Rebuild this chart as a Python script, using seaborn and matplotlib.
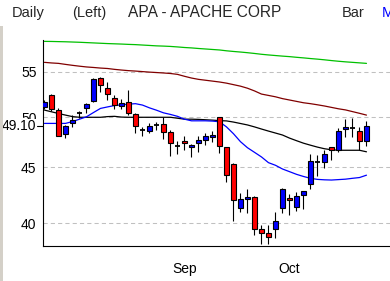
import numpy as np
import pandas as pd
import matplotlib
matplotlib.use("Agg")
import matplotlib.pyplot as plt
import seaborn as sns
from matplotlib.ticker import FixedLocator, NullFormatter, FixedFormatter
from matplotlib.patches import Rectangle

# ---------------- data ----------------
opens = [51.1, 52.4, 50.8, 48.25, 49.36, 50.45, 50.95, 51.75, 54.35, 53.2, 52.1, 51.25, 51.6, 50.3,
         48.65, 48.6, 49.2, 49.25, 48.45, 47.1, 47.6, 46.96, 47.35, 47.65, 47.93, 50.0, 46.95, 45.3,
         41.3, 42.1, 42.3, 39.5, 39.2, 39.55, 41.3, 42.2, 41.37, 42.5, 43.5, 45.5, 45.5, 46.95, 46.7,
         48.75, 48.9, 48.57, 47.52]
closes = [51.6, 50.85, 48.1, 49.1, 49.71, 50.45, 51.4, 54.15, 53.56, 52.55, 51.35, 51.5, 50.5, 49.1,
          48.65, 49.08, 49.2, 48.45, 47.35, 47.1, 47.35, 47.2, 47.7, 48.05, 48.16, 47.1, 44.3, 42.0,
          42.1, 42.3, 39.5, 39.2, 38.85, 40.2, 43.0, 42.0, 42.35, 42.8, 45.6, 45.5, 46.25, 46.7, 48.57,
          48.95, 48.9, 47.52, 49.1]
highs = [51.8, 52.5, 50.95, 49.15, 50.2, 50.7, 51.55, 54.3, 54.4, 53.8, 52.35, 51.98, 53.0, 50.4,
         49.0, 49.36, 49.55, 50.0, 48.67, 47.6, 48.1, 47.25, 48.1, 48.33, 48.6, 50.05, 47.0, 45.4,
         42.6, 43.0, 42.4, 39.85, 39.9, 41.0, 43.05, 42.55, 42.75, 42.85, 46.25, 46.2, 46.65, 47.0,
         48.9, 49.8, 49.95, 48.95, 49.6]
lows = [50.9, 50.7, 48.03, 47.9, 48.95, 49.95, 50.41, 51.63, 52.7, 51.9, 50.9, 50.9, 50.23, 48.4,
        48.1, 48.33, 48.7, 47.8, 46.1, 46.3, 46.7, 46.0, 46.45, 47.2, 47.5, 46.4, 43.6, 40.2,
        41.0, 40.9, 39.05, 38.3, 38.3, 38.8, 40.9, 40.75, 41.05, 41.2, 43.0, 44.2, 44.9, 45.7,
        46.45, 47.97, 48.0, 46.7, 47.1]

ma_green = [58.65, 58.64, 58.62, 58.6, 58.57, 58.54, 58.5, 58.46, 58.42, 58.38, 58.35, 58.32, 58.28,
            58.25, 58.2, 58.15, 58.1, 58.07, 58.03, 57.97, 57.9, 57.85, 57.78, 57.72, 57.66, 57.6,
            57.5, 57.42, 57.35, 57.27, 57.18, 57.08, 57.0, 56.93, 56.86, 56.8, 56.72, 56.65, 56.57,
            56.5, 56.42, 56.33, 56.25, 56.18, 56.12, 56.06, 56.0]
ma_red = [56.12, 56.05, 56.0, 55.88, 55.77, 55.67, 55.58, 55.52, 55.45, 55.4, 55.3, 55.22, 55.15,
          55.1, 55.04, 54.98, 54.93, 54.88, 54.82, 54.72, 54.5, 54.3, 54.15, 54.05, 53.95, 53.85,
          53.72, 53.55, 53.38, 53.15, 52.85, 52.5, 52.35, 52.2, 52.0, 51.85, 51.7, 51.55, 51.45,
          51.33, 51.2, 51.05, 50.9, 50.78, 50.6, 50.42, 50.23]
ma_black = [50.76, 50.58, 50.4, 50.23, 50.07, 50.0, 50.0, 50.0, 50.0, 50.07, 50.1, 50.02, 50.0,
            50.0, 50.0, 50.0, 50.0, 50.0, 50.0, 49.9, 49.8, 49.8, 49.78, 49.74, 49.7, 49.65, 49.62,
            49.5, 49.35, 49.2, 49.0, 48.78, 48.57, 48.37, 48.17, 47.86, 47.6, 47.35, 47.15, 46.96,
            46.8, 46.7, 46.65, 46.65, 46.65, 46.65, 46.5]
ma_blue = [49.36, 49.36, 49.36, 49.36, 49.55, 49.8, 50.05, 50.5, 50.94, 51.1, 51.25, 51.32, 51.4,
           51.45, 51.3, 51.0, 50.75, 50.47, 50.3, 50.1, 49.8, 49.63, 49.63, 49.63, 49.6, 49.53,
           49.0, 48.3, 47.5, 46.9, 46.45, 46.0, 45.45, 45.2, 44.85, 44.6, 44.35, 44.15, 43.98,
           43.88, 43.84, 43.82, 43.86, 43.9, 43.98, 44.05, 44.27]

y_major = [40, 45, 50, 55]
y_labels = ["40", "45", "50", "55"]
month_pos = [20, 35]
month_labels = ["Sep", "Oct"]
last_label = "49.10"
last_value = 49.10

# ---------------- figure ----------------
sns.set_style("white")
plt.rcParams["font.family"] = ["Liberation Sans", "DejaVu Sans"]

W, H = 390, 281
fig = plt.figure(figsize=(W / 100, H / 100), dpi=100)
fig.patch.set_facecolor("white")
ax = fig.add_axes([43 / W, (H - 245.7) / H, (W - 43) / W, (245.7 - 40) / H])
ax.set_facecolor("white")

n = len(opens)
idx = np.arange(n)
df = pd.DataFrame({"i": idx, "open": opens, "close": closes, "high": highs, "low": lows,
                   "g": ma_green, "r": ma_red, "k": ma_black, "b": ma_blue})

ax.set_yscale("log")
ax.set_xlim(-0.21, 49.36)
ax.set_ylim(38.17, 58.82)

# grid
for v in y_major:
    ax.axhline(v, color="#c0c0c0", lw=0.75, ls=(0, (4, 3)), zorder=0)

# moving averages
for col, c in [("g", "#00c000"), ("r", "#800000"), ("k", "black"), ("b", "#0000ff")]:
    sns.lineplot(data=df, x="i", y=col, color=c, lw=0.9, ax=ax, zorder=2, legend=False)

# candles
ax.vlines(df["i"], df["low"], df["high"], color="black", lw=0.8, zorder=3)
body_w = 0.7
for _, r in df.iterrows():
    o, c = r["open"], r["close"]
    if abs(c - o) < 1e-9:
        ax.hlines(c, r["i"] - body_w / 2, r["i"] + body_w / 2, color="black", lw=1.3, zorder=4)
    else:
        col = "#0000ff" if c > o else "#ff0000"
        lo, hi = min(o, c), max(o, c)
        ax.bar(r["i"], hi - lo, bottom=lo, width=body_w, color=col, edgecolor="black",
               linewidth=0.8, zorder=4)

# axes styling
for s in ["top", "right"]:
    ax.spines[s].set_visible(False)
for s in ["left", "bottom"]:
    ax.spines[s].set_color("black")
    ax.spines[s].set_linewidth(0.8)

ax.yaxis.set_major_locator(FixedLocator(y_major))
ax.yaxis.set_major_formatter(FixedFormatter(y_labels))
ax.yaxis.set_minor_locator(FixedLocator([v for v in np.arange(38.5, 58.6, 0.5) if v not in y_major]))
ax.yaxis.set_minor_formatter(NullFormatter())
ax.tick_params(axis="y", which="major", length=3.8, width=0.8, pad=0.8, labelsize=10,
               direction="out", colors="black")
ax.tick_params(axis="y", which="minor", length=2.5, width=0.8, direction="out", color="black")

ax.xaxis.set_major_locator(FixedLocator(month_pos))
ax.xaxis.set_major_formatter(FixedFormatter(month_labels))
ax.xaxis.set_minor_locator(FixedLocator([i for i in idx if i not in month_pos]))
ax.tick_params(axis="x", which="major", length=8, width=0.8, pad=4, labelsize=10,
               direction="out", colors="black")
ax.tick_params(axis="x", which="minor", length=2.6, width=0.8, direction="out", color="black")
ax.set_xlabel("")
ax.set_ylabel("")

# last price label
ytr = ax.get_yaxis_transform()
ax.plot([-6 / 347, 0], [last_value, last_value], transform=ytr, color="black", lw=0.8,
        clip_on=False, zorder=6)
ax.text(-6.5 / 347, last_value, last_label, transform=ytr, ha="right", va="center",
        fontsize=10, color="black", zorder=7, clip_on=False,
        bbox=dict(facecolor="white", edgecolor="none", pad=0.3))

# header
base = 1 - 16.8 / H
fig.text(12 / W, base, "Daily", fontsize=10.5, va="baseline", ha="left")
fig.text(72 / W, base, "(Left)", fontsize=10.5, va="baseline", ha="left")
fig.text(128 / W, base, "APA - APACHE CORP", fontsize=11.2, va="baseline", ha="left")
fig.text(342 / W, base, "Bar", fontsize=10.5, va="baseline", ha="left")
fig.text(382 / W, base, "M", fontsize=10.5, va="baseline", ha="left", color="#0000ff")

# left gray frame strip
fig.patches.append(Rectangle((0, 0), 2.5 / W, (H - 26) / H, transform=fig.transFigure,
                             facecolor="#d4d0c8", edgecolor="none", zorder=0))

fig.savefig("out.png", dpi=100)
